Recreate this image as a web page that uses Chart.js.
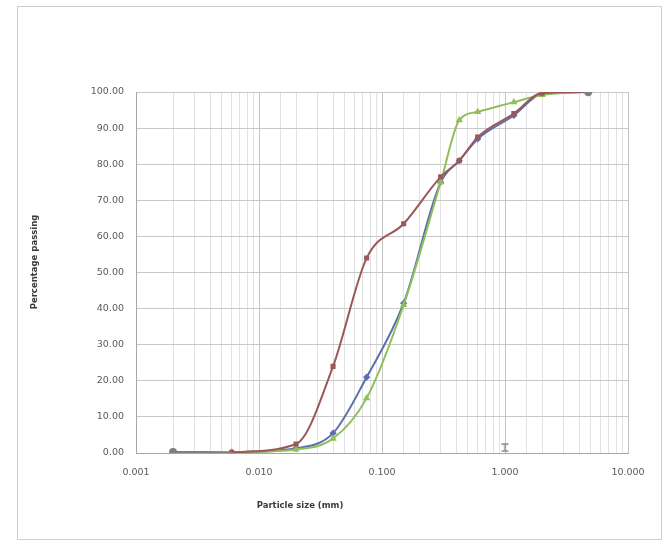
<!DOCTYPE html>
<html>
<head>
<meta charset="utf-8">
<script src="https://cdn.jsdelivr.net/npm/chart.js@4"></script>
<style>
  html, body { margin: 0; padding: 0; background: #ffffff; }
  #wrap { width: 666px; height: 544px; position: relative; }
</style>
</head>
<body>
<div id="wrap"><canvas id="c" width="666" height="544"></canvas></div>
<script>
// ---- data ----
const sizes = [0.006, 0.02, 0.04, 0.075, 0.15, 0.3, 0.425, 0.6, 1.18, 2.0, 4.75];
const seriesBlue  = [0.2, 1.3, 5.5, 21.0, 41.5, 75.0, 81.0, 87.0, 93.5, 99.5, 100];
const seriesRed   = [0.2, 2.5, 24.0, 54.0, 63.5, 76.5, 81.0, 87.5, 94.0, 99.7, 100];
const seriesGreen = [0.2, 1.0, 4.0, 15.2, 41.0, 75.0, 92.2, 94.5, 97.2, 99.2, 100];
const greySizes = [0.002, 0.006, 1.0, 4.75];
const greyValues = [0.3, 0.2, null, 100];
const markSizes = [1.0];
const markValues = [1.5];
const yTicks = [0, 10, 20, 30, 40, 50, 60, 70, 80, 90, 100];
const xTitle = 'Particle size (mm)';
const yTitle = 'Percentage passing';

function pts(xs, ys) { return xs.map((x, i) => ({ x: x, y: ys[i] })); }

// I-beam marker
const ib = document.createElement('canvas');
ib.width = 9; ib.height = 9;
(function () {
  const g = ib.getContext('2d');
  g.strokeStyle = '#8a8a8a'; g.lineWidth = 1.5;
  g.beginPath();
  g.moveTo(1, 1); g.lineTo(8, 1);
  g.moveTo(4.5, 1); g.lineTo(4.5, 8);
  g.moveTo(1, 8); g.lineTo(8, 8);
  g.stroke();
})();

const isMajor = v => Math.abs(Math.log10(v) - Math.round(Math.log10(v))) < 1e-6;

const framePlugin = {
  id: 'frame',
  beforeDraw(chart) {
    const ctx = chart.ctx;
    ctx.save();
    ctx.fillStyle = '#ffffff';
    ctx.fillRect(0, 0, chart.width, chart.height);
    ctx.strokeStyle = '#cfcfcf';
    ctx.lineWidth = 1;
    ctx.strokeRect(17.5, 6.5, 644, 533);
    ctx.restore();
  },
  afterDraw(chart) {
    const ctx = chart.ctx;
    ctx.save();
    ctx.fillStyle = '#3a3a3a';
    ctx.font = 'bold 8.5px "DejaVu Sans"';
    ctx.textAlign = 'center';
    ctx.textBaseline = 'middle';
    ctx.fillText(xTitle, 300, 506);
    ctx.translate(35, 262);
    ctx.rotate(-Math.PI / 2);
    ctx.fillText(yTitle, 0, 0);
    ctx.restore();
  }
};

const common = { fill: false, borderWidth: 2, pointRadius: 2.2, pointHoverRadius: 2.2, cubicInterpolationMode: 'monotone' };

new Chart(document.getElementById('c'), {
  type: 'line',
  data: {
    datasets: [
      Object.assign({}, common, { label: 'grey', data: pts(greySizes, greyValues), borderColor: '#7f7f7f', backgroundColor: '#7f7f7f', pointRadius: [3, 0, 0, 3.2], spanGaps: false, order: 0 }),
      Object.assign({}, common, { label: 'blue', data: pts(sizes, seriesBlue), borderColor: '#5b6fae', backgroundColor: '#5b6fae', pointStyle: 'rectRot', order: 3 }),
      Object.assign({}, common, { label: 'green', data: pts(sizes, seriesGreen), borderColor: '#8fbf5c', backgroundColor: '#8fbf5c', pointStyle: 'triangle', order: 2 }),
      Object.assign({}, common, { label: 'red', data: pts(sizes, seriesRed), borderColor: '#9a5858', backgroundColor: '#9a5858', pointStyle: 'rect', order: 1 }),
      { label: 'mark', data: pts(markSizes, markValues), showLine: false, pointStyle: ib, pointRadius: 5, borderColor: '#8a8a8a', backgroundColor: '#8a8a8a', order: 0 }
    ]
  },
  options: {
    responsive: false,
    animation: false,
    events: [],
    layout: { padding: { top: 92, right: 38, bottom: 0, left: 0 } },
    plugins: { legend: { display: false }, tooltip: { enabled: false } },
    scales: {
      x: {
        type: 'logarithmic',
        min: 0.001,
        max: 10,
        afterFit(s) { s.height = 91; },
        border: { display: true, color: '#a6a6a6', width: 1 },
        grid: {
          drawTicks: false,
          color: ctx => (ctx.tick && isMajor(ctx.tick.value)) ? '#c4c4c4' : '#e2e2e2',
          lineWidth: 1
        },
        ticks: {
          autoSkip: false,
          maxRotation: 0,
          padding: 14,
          color: '#5a5a5a',
          font: { family: '"DejaVu Sans"', size: 9.5 },
          callback: function (v) { return isMajor(v) ? Number(v).toFixed(3) : ''; }
        }
      },
      y: {
        type: 'linear',
        min: 0,
        max: 100,
        afterFit(s) { s.width = 136; },
        afterBuildTicks(s) { s.ticks = yTicks.map(v => ({ value: v })); },
        border: { display: true, color: '#a6a6a6', width: 1 },
        grid: { drawTicks: false, color: '#c8c8c8', lineWidth: 1 },
        ticks: {
          padding: 12,
          color: '#5a5a5a',
          font: { family: '"DejaVu Sans"', size: 9.5 },
          callback: v => Number(v).toFixed(2)
        }
      }
    }
  },
  plugins: [framePlugin]
});
</script>
</body>
</html>
